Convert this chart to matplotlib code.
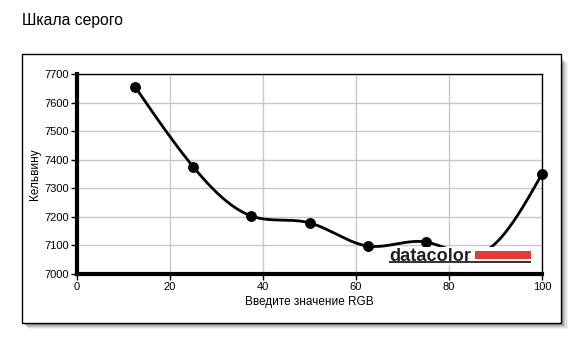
import numpy as np
import matplotlib
matplotlib.use("Agg")
import matplotlib.pyplot as plt
from matplotlib.patches import Rectangle

plt.rcParams["font.family"] = ["Liberation Sans", "DejaVu Sans"]

rgb_values = [12.5, 25, 37.5, 50, 62.5, 75, 87.5, 100]
kelvin_values = [7655, 7375, 7203, 7179, 7098, 7112, 7078, 7350]
x_ticks = [0, 20, 40, 60, 80, 100]
y_ticks = [7000, 7100, 7200, 7300, 7400, 7500, 7600, 7700]


def natural_spline(x, y, n=400):
    x = np.asarray(x, float)
    y = np.asarray(y, float)
    k = len(x)
    h = np.diff(x)
    a = np.zeros((k, k))
    b = np.zeros(k)
    a[0, 0] = a[-1, -1] = 1
    for i in range(1, k - 1):
        a[i, i - 1] = h[i - 1]
        a[i, i] = 2 * (h[i - 1] + h[i])
        a[i, i + 1] = h[i]
        b[i] = 3 * ((y[i + 1] - y[i]) / h[i] - (y[i] - y[i - 1]) / h[i - 1])
    c = np.linalg.solve(a, b)
    xs = np.linspace(x[0], x[-1], n)
    idx = np.clip(np.searchsorted(x, xs) - 1, 0, k - 2)
    dx = xs - x[idx]
    bb = (y[idx + 1] - y[idx]) / h[idx] - h[idx] * (2 * c[idx] + c[idx + 1]) / 3
    dd = (c[idx + 1] - c[idx]) / (3 * h[idx])
    ys = y[idx] + bb * dx + c[idx] * dx ** 2 + dd * dx ** 3
    return xs, ys


W, H = 586, 344
fig = plt.figure(figsize=(W / 100, H / 100), dpi=100)

fig.text(22 / W, 1 - 20 / H, "Шкала серого", fontsize=11.3, va="center", ha="left")

# frame with soft drop shadow
fx0, fy0, fw, fh = 22, 21, 539, 269
for i, alpha in enumerate([0.06, 0.08, 0.10, 0.12, 0.14, 0.16]):
    off = 6 - i
    fig.patches.append(Rectangle(((fx0 + off) / W, (fy0 - off) / H), (fw + 1 - i * 0.3) / W, (fh - 3) / H,
                                 transform=fig.transFigure, facecolor="black", alpha=alpha,
                                 edgecolor="none", zorder=0))
fig.patches.append(Rectangle((fx0 / W, fy0 / H), fw / W, fh / H, transform=fig.transFigure,
                             facecolor="white", edgecolor="black", linewidth=1, zorder=1))

ax = fig.add_axes([77 / W, 70 / H, 465 / W, 200 / H])
ax.set_zorder(2)
ax.set_xlim(0, 100)
ax.set_ylim(7000, 7700)
ax.set_xticks(x_ticks)
ax.set_yticks(y_ticks)
ax.grid(color="#c8c8c8", linewidth=1)
ax.set_axisbelow(True)
for side in ["left", "bottom"]:
    ax.spines[side].set_linewidth(3)
for side in ["top", "right"]:
    ax.spines[side].set_linewidth(1)
ax.tick_params(labelsize=8, length=4, width=1, pad=2)
ax.set_xlabel("Введите значение RGB", fontsize=8.5, labelpad=3)
ax.set_ylabel("Кельвину", fontsize=8.5, labelpad=2)

xs, ys = natural_spline(rgb_values, kelvin_values)
ax.plot(xs, ys, color="black", linewidth=2, zorder=3, clip_on=False)
ax.plot(rgb_values, kelvin_values, "o", color="black", markersize=6.8, zorder=4, clip_on=False)

# datacolor logo
ax.add_patch(Rectangle((67.0, 7033), 31.5, 62, facecolor="white", edgecolor="none", zorder=5))
ax.text(67.2, 7046, "datacolor", fontsize=13.1, fontweight="bold", color="#222222",
        ha="left", va="baseline", zorder=6)
ax.add_patch(Rectangle((85.6, 7052), 12.1, 29, facecolor="#e63a3a", edgecolor="none", zorder=5.5))
ax.plot([67.2, 97.7], [7041, 7041], color="#222222", linewidth=1.3, zorder=6, solid_capstyle="butt")

fig.savefig("out.png", dpi=100)
